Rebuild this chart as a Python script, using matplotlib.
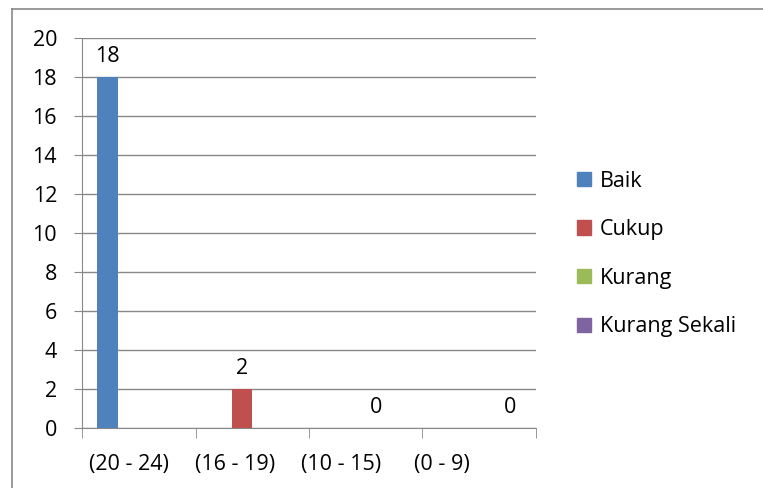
import numpy as np
import matplotlib
matplotlib.use("Agg")
import matplotlib.pyplot as plt
import matplotlib.transforms as mtransforms
from matplotlib.patches import Patch
from matplotlib.lines import Line2D

plt.rcParams['font.family'] = ['Open Sans', 'DejaVu Sans']

kategori = ["(20 - 24)", "(16 - 19)", "(10 - 15)", "(0 - 9)"]
seri = ["Baik", "Cukup", "Kurang", "Kurang Sekali"]
warna = ["#4F81BD", "#C0504D", "#9BBB59", "#8064A2"]
# tiap kategori hanya punya satu nilai (seri yang sesuai)
baik = [18, np.nan, np.nan, np.nan]
cukup = [np.nan, 2, np.nan, np.nan]
kurang = [np.nan, np.nan, 0, np.nan]
kurang_sekali = [np.nan, np.nan, np.nan, 0]
nilai = [baik, cukup, kurang, kurang_sekali]

fs = 15.5
fig = plt.figure(figsize=(7.63, 4.88), dpi=100)
W, H = 763, 488
ax = fig.add_axes([82 / W, 1 - 428 / H, (536 - 82) / W, (428 - 38) / H])

# bingkai luar
fig.add_artist(Line2D([12 / W, 12 / W], [0, 1 - 9 / H], color="#888888", lw=1.2))
fig.add_artist(Line2D([12 / W, 1], [1 - 9 / H, 1 - 9 / H], color="#888888", lw=1.2))

lebar = 1 / 5.5
x = np.arange(len(kategori))
for i, (nama, v) in enumerate(zip(seri, nilai)):
    pos = x - 0.5 + 0.75 * lebar + (i + 0.5) * lebar
    ax.bar(pos, v, width=lebar, color=warna[i], label=nama, zorder=3)
    for p, val in zip(pos, v):
        if not np.isnan(val):
            ax.annotate(f"{int(val)}", (p, val), xytext=(0, 7), textcoords="offset points",
                        ha="center", va="bottom", fontsize=fs)

ax.set_xlim(-0.5, len(kategori) - 0.5)
ax.set_ylim(0, 20)
ax.set_yticks(range(0, 21, 2))
ax.set_xticks(x)
ax.set_xticklabels(kategori, fontsize=fs)
ax.tick_params(axis="y", labelsize=fs, length=6, color="#888888", pad=12)
ax.set_xticks(np.arange(-0.5, len(kategori), 1), minor=True)
ax.tick_params(axis="x", which="major", length=0, pad=19)
ax.tick_params(axis="x", which="minor", length=7, color="#888888")
ax.grid(axis="y", color="#888888", lw=1.0, zorder=0)
for s in ["top", "right"]:
    ax.spines[s].set_visible(False)
ax.spines["left"].set_color("#888888")
ax.spines["bottom"].set_color("#888888")

# label kategori sedikit bergeser ke kiri
geser = [-10, -17, -25, -37]
for lbl, dx in zip(ax.get_xticklabels(), geser):
    lbl.set_transform(lbl.get_transform() +
                      mtransforms.ScaledTranslation(dx / 100, 0, fig.dpi_scale_trans))

handles = [Patch(color=c, label=n) for c, n in zip(warna, seri)]
fig.legend(handles=handles, loc="center left", bbox_to_anchor=(558 / W, 1 - 254 / H),
           frameon=False, fontsize=fs, handlelength=0.65, handleheight=0.65,
           handletextpad=0.4, labelspacing=1.28)

fig.savefig("out.png", dpi=100)
